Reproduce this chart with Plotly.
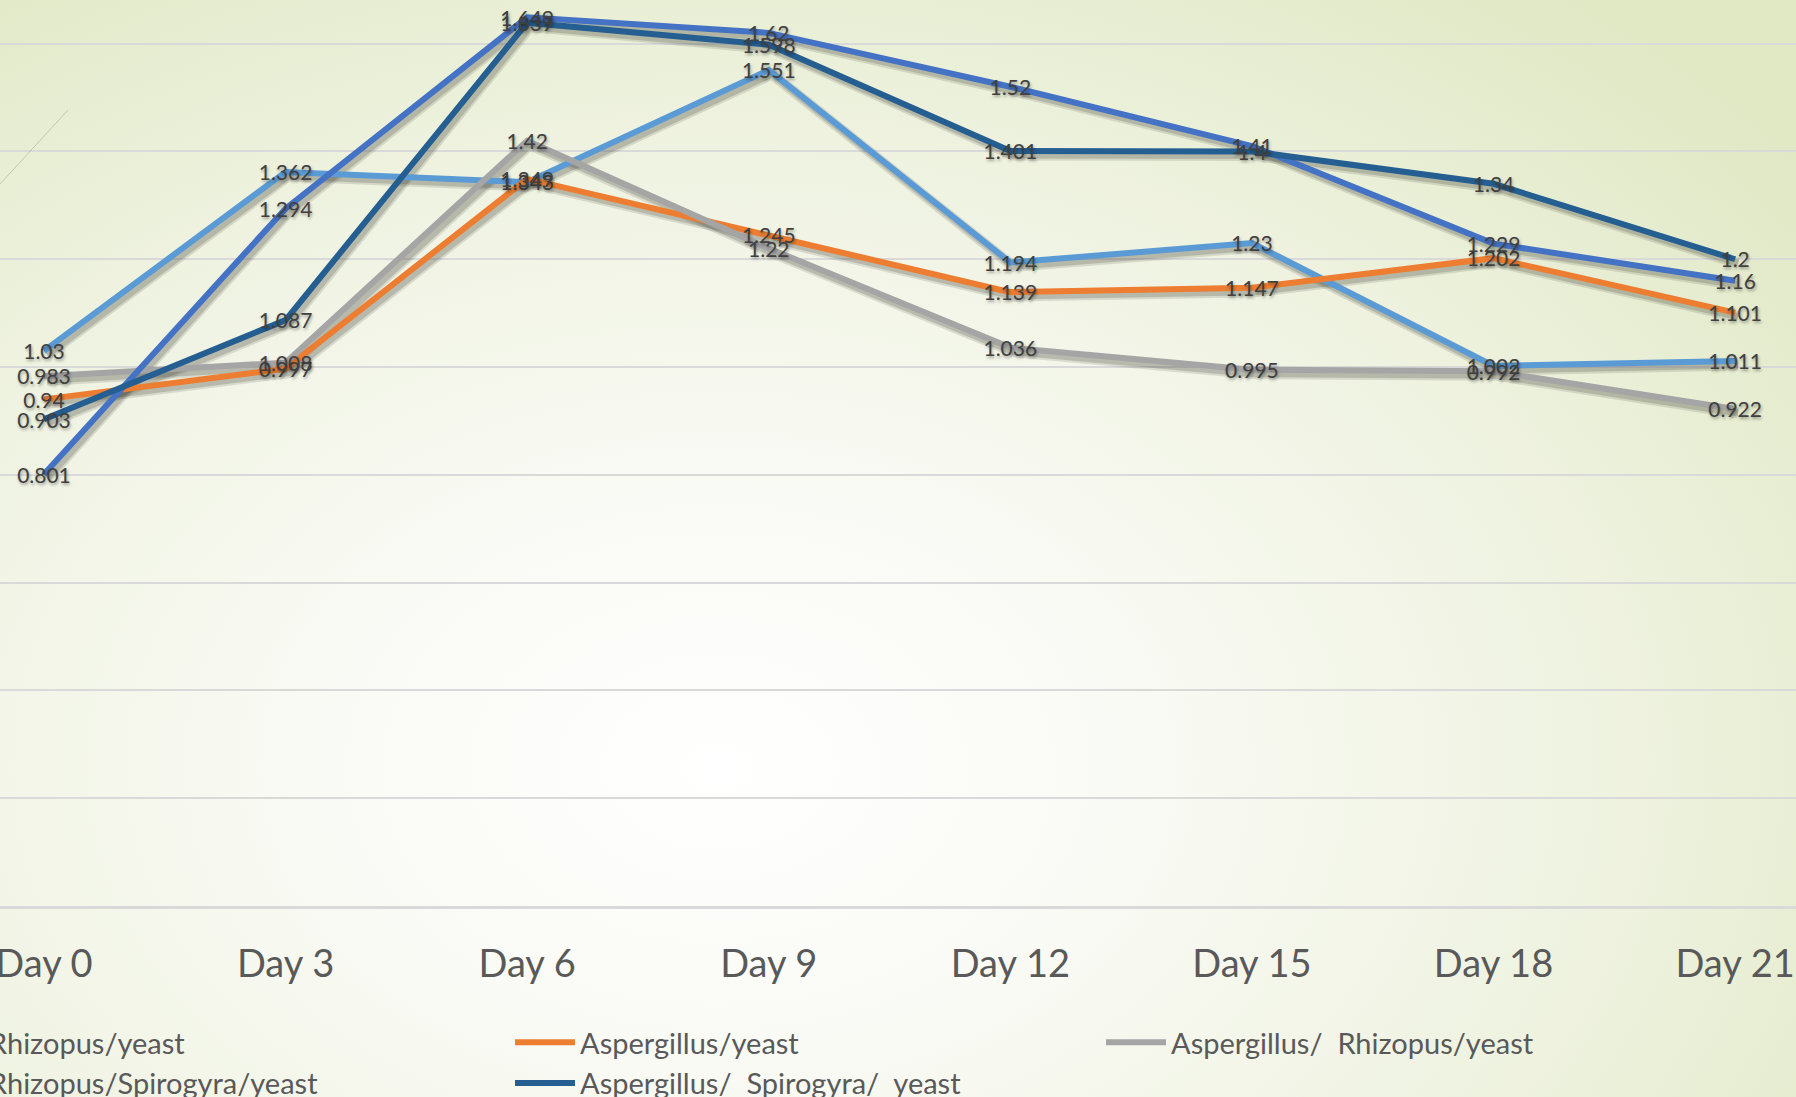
import base64
import plotly.graph_objects as go

# Sampling days on the category axis
days = ["Day 0", "Day 3", "Day 6", "Day 9", "Day 12", "Day 15", "Day 18", "Day 21"]

# Measured values per culture combination
rhizopus_yeast = [1.03, 1.362, 1.343, 1.551, 1.194, 1.23, 1.002, 1.011]
aspergillus_yeast = [0.94, 0.997, 1.349, 1.245, 1.139, 1.147, 1.202, 1.101]
aspergillus_rhizopus_yeast = [0.983, 1.008, 1.42, 1.22, 1.036, 0.995, 0.992, 0.922]
rhizopus_spirogyra_yeast = [0.801, 1.294, 1.649, 1.62, 1.52, 1.41, 1.229, 1.16]
aspergillus_spirogyra_yeast = [0.903, 1.087, 1.639, 1.598, 1.401, 1.4, 1.34, 1.2]

series_names = [
    "Rhizopus/yeast",
    "Aspergillus/yeast",
    "Aspergillus/  Rhizopus/yeast",
    "Rhizopus/Spirogyra/yeast",
    "Aspergillus/  Spirogyra/  yeast",
]
series_values = [
    rhizopus_yeast,
    aspergillus_yeast,
    aspergillus_rhizopus_yeast,
    rhizopus_spirogyra_yeast,
    aspergillus_spirogyra_yeast,
]
series_colors = ["#5B9BD5", "#ED7D31", "#A5A5A5", "#4472C4", "#255E91"]
series_legend = ["legend", "legend2", "legend3", "legend", "legend2"]

W, H = 1796, 1097
PLOT_H = 906                      # plot area height in px (x axis line position)
X_RANGE = [-0.182, 7.252]         # category axis window
Y_RANGE = [0.0, 1.681]
PX_PER_X = W / (X_RANGE[1] - X_RANGE[0])
PX_PER_Y = PLOT_H / (Y_RANGE[1] - Y_RANGE[0])


def shifted_x(dx):
    return [X_RANGE[0] - dx / PX_PER_X, X_RANGE[1] - dx / PX_PER_X]


def shifted_y(dy):
    return [Y_RANGE[0] + dy / PX_PER_Y, Y_RANGE[1] + dy / PX_PER_Y]


fig = go.Figure()

# Soft shadows under each line (base axes, window nudged right/down)
for vals in series_values:
    fig.add_trace(go.Scatter(
        x=days, y=vals, mode="lines", xaxis="x", yaxis="y",
        line=dict(color="rgba(40,40,30,0.13)", width=11),
        hoverinfo="skip", showlegend=False,
    ))
    fig.add_trace(go.Scatter(
        x=days, y=vals, mode="lines", xaxis="x", yaxis="y",
        line=dict(color="rgba(40,40,30,0.18)", width=7),
        hoverinfo="skip", showlegend=False,
    ))

# Main series lines
for name, vals, color, lg in zip(series_names, series_values, series_colors, series_legend):
    fig.add_trace(go.Scatter(
        x=days, y=vals, mode="lines", name=name, xaxis="x2", yaxis="y2",
        line=dict(color=color, width=6),
        legend=lg,
    ))

# Value labels on each point, drawn above all lines
for vals in series_values:
    fig.add_trace(go.Scatter(
        x=days, y=vals, mode="text", xaxis="x3", yaxis="y3",
        text=[f"{v:g}" for v in vals], textposition="middle center",
        textfont=dict(family="Lato", size=21, color="#404040",
                      shadow="1px 2px 3px rgba(0,0,0,0.35)"),
        hoverinfo="skip", showlegend=False,
    ))

# Radial background wash
svg = f"""<svg xmlns='http://www.w3.org/2000/svg' width='{W}' height='{H}'>
<defs><radialGradient id='g' cx='0.40' cy='0.70' r='0.78' gradientUnits='objectBoundingBox'
 gradientTransform='translate(0.40,0.70) scale(1,1.15) translate(-0.40,-0.70)'>
<stop offset='0' stop-color='#FFFFFF'/>
<stop offset='0.30' stop-color='#F9FAF4'/>
<stop offset='0.65' stop-color='#EEF2DF'/>
<stop offset='1' stop-color='#E0E8C4'/>
</radialGradient></defs>
<rect width='{W}' height='{H}' fill='url(#g)'/>
</svg>"""
bg_src = "data:image/svg+xml;base64," + base64.b64encode(svg.encode()).decode()

legend_font = dict(family="Lato", size=29, color="#595959")
legend_top = (PLOT_H - 1017) / PLOT_H
legend_common = dict(
    orientation="v", bgcolor="rgba(0,0,0,0)", borderwidth=0,
    font=legend_font, yanchor="top", xanchor="left", y=legend_top,
    tracegroupgap=0, itemclick=False, itemdoubleclick=False, itemwidth=60,
)

hidden = dict(visible=False, fixedrange=True)

fig.update_layout(
    width=W, height=H,
    margin=dict(l=0, r=0, t=0, b=H - PLOT_H, pad=0, autoexpand=False),
    paper_bgcolor="#F3F6E9",
    plot_bgcolor="rgba(0,0,0,0)",
    images=[dict(source=bg_src, xref="paper", yref="paper", x=0, y=1,
                 sizex=1, sizey=H / PLOT_H, xanchor="left", yanchor="top",
                 sizing="stretch", layer="below")],
    xaxis=dict(range=shifted_x(3), type="category", categoryarray=days, **hidden),
    yaxis=dict(range=shifted_y(4), **hidden),
    xaxis2=dict(
        overlaying="x", anchor="y2", side="bottom", type="category",
        categoryarray=days, range=X_RANGE, fixedrange=True,
        showgrid=False, zeroline=False,
        showline=True, linecolor="#D9D9D9", linewidth=3,
        ticks="outside", ticklen=22, tickcolor="rgba(0,0,0,0)",
        tickfont=dict(family="Lato", size=38, color="#595959"),
    ),
    yaxis2=dict(
        overlaying="y", anchor="x2", range=list(Y_RANGE), fixedrange=True,
        dtick=0.2, tick0=0, showgrid=True, gridcolor="#D9D9D9", gridwidth=2,
        showticklabels=False, zeroline=False, showline=False,
    ),
    xaxis3=dict(overlaying="x", anchor="y3", range=X_RANGE, type="category",
                categoryarray=days, **hidden),
    yaxis3=dict(overlaying="y", anchor="x3", range=shifted_y(3), **hidden),
    legend=dict(x=-81 / W, **legend_common),
    legend2=dict(x=510 / W, **legend_common),
    legend3=dict(x=1101 / W, **legend_common),
    shapes=[dict(type="line", xref="paper", yref="paper",
                 x0=0, y0=(PLOT_H - 184) / PLOT_H, x1=68 / W, y1=(PLOT_H - 110) / PLOT_H,
                 line=dict(color="rgba(150,150,140,0.45)", width=1))],
    showlegend=True,
)

fig.write_html("out.html")
